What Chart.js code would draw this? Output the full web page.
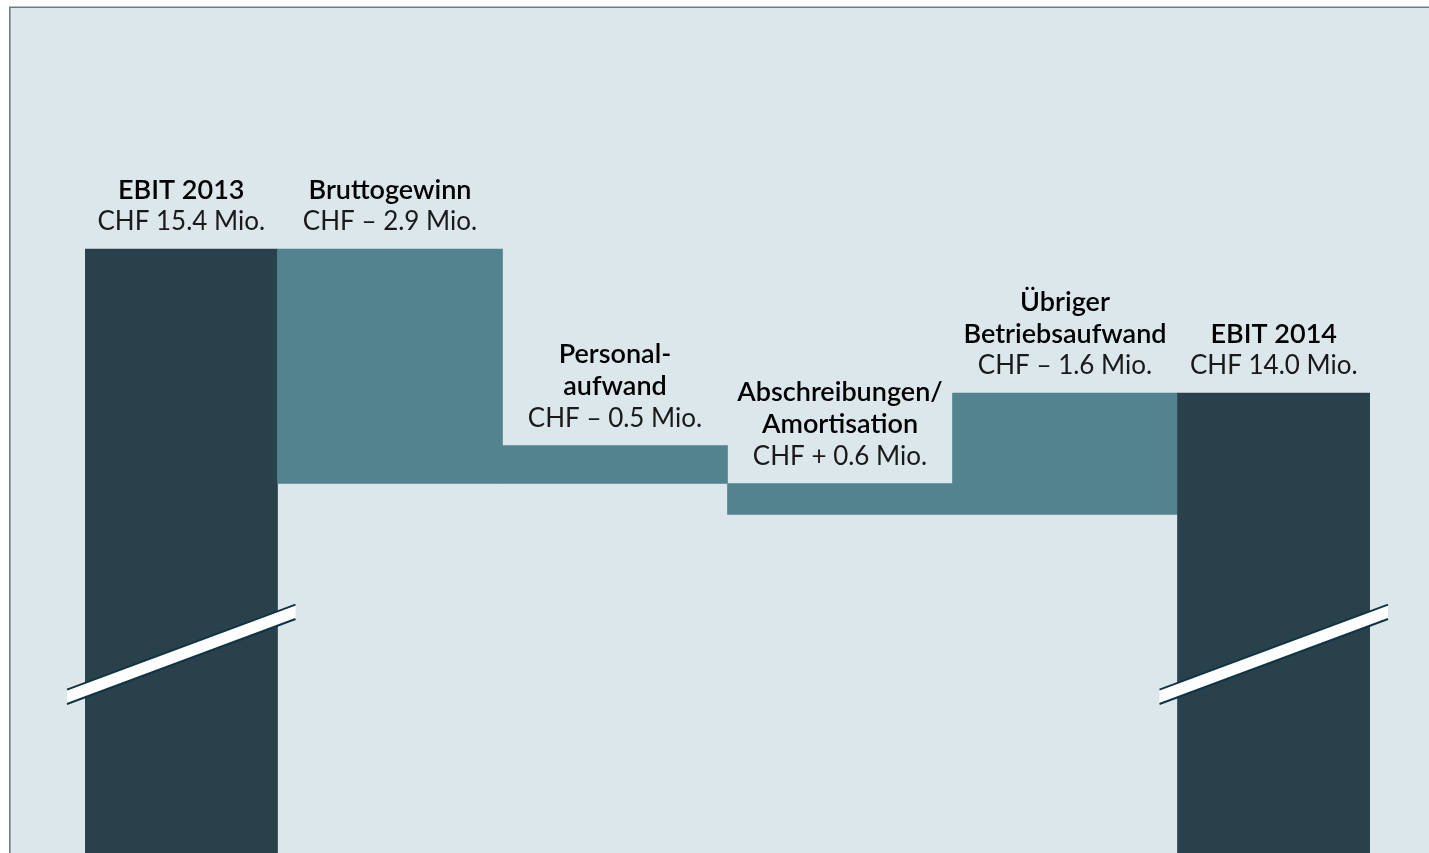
<!DOCTYPE html>
<html><head><meta charset="utf-8">
<script src="https://cdn.jsdelivr.net/npm/chart.js@4"></script>
<style>
html,body{margin:0;padding:0;background:#fff;overflow:hidden}
#wrap{position:relative;width:1429px;height:853px}
</style></head><body>
<div id="wrap"><canvas id="c"></canvas></div>
<script>
// ---- data ----
const categories = [['EBIT 2013'], ['Bruttogewinn'], ['Personal-', 'aufwand'], ['Abschreibungen/', 'Amortisation'], ['Übriger', 'Betriebsaufwand'], ['EBIT 2014']];
const valueLabels = ['CHF 15.4 Mio.', 'CHF – 2.9 Mio.', 'CHF – 0.5 Mio.', 'CHF + 0.6 Mio.', 'CHF – 1.6 Mio.', 'CHF 14.0 Mio.'];
const barLow  = [9.5, 13.12, 13.12, 12.82, 12.82, 9.5];
const barHigh = [15.4, 15.4, 13.49, 13.12, 14.0, 14.0];
const barKinds = ['total', 'delta', 'delta', 'delta', 'delta', 'total'];

// ---- styles ----
const COLORS = { total: '#28414a', delta: '#52838f' };
const BG = '#dce7ec';
const FONT = 'Lato, "Open Sans", sans-serif';

const panelPlugin = {
  id: 'panel',
  beforeDraw(chart) {
    const { ctx, width, height } = chart;
    ctx.save();
    ctx.fillStyle = BG;
    ctx.fillRect(9, 7, width - 9, height - 7);
    ctx.strokeStyle = '#6b7e88';
    ctx.lineWidth = 1.6;
    ctx.beginPath();
    ctx.moveTo(9.8, height);
    ctx.lineTo(9.8, 7.2);
    ctx.lineTo(width, 7.2);
    ctx.stroke();
    ctx.restore();
  }
};

function visibleExtent(el, ca) {
  const l = Math.max(el.x - el.width / 2, ca.left);
  const r = Math.min(el.x + el.width / 2, ca.right);
  return { l, r, c: (l + r) / 2 };
}

const breakPlugin = {
  id: 'breaks',
  afterDatasetsDraw(chart, args, opts) {
    const { ctx, chartArea: ca } = chart;
    const ys = chart.scales.y;
    const meta = chart.getDatasetMeta(0);
    const yc = ys.getPixelForValue(opts.value);
    const slope = -0.372, half = 7.2, over = 18;
    ctx.save();
    meta.data.forEach((el, i) => {
      if (barKinds[i] !== 'total') return;
      const v = visibleExtent(el, ca);
      const x0 = v.l - over, x1 = v.r + over;
      const y0 = yc + slope * (x0 - v.c), y1 = yc + slope * (x1 - v.c);
      ctx.beginPath();
      ctx.moveTo(x0, y0 - half); ctx.lineTo(x1, y1 - half);
      ctx.lineTo(x1, y1 + half); ctx.lineTo(x0, y0 + half);
      ctx.closePath();
      ctx.fillStyle = '#ffffff';
      ctx.fill();
      ctx.strokeStyle = '#0f3446';
      ctx.lineWidth = 2;
      ctx.beginPath();
      ctx.moveTo(x0, y0 - half); ctx.lineTo(x1, y1 - half);
      ctx.moveTo(x0, y0 + half); ctx.lineTo(x1, y1 + half);
      ctx.stroke();
    });
    ctx.restore();
  }
};

const labelPlugin = {
  id: 'barLabels',
  afterDatasetsDraw(chart) {
    const { ctx, chartArea: ca } = chart;
    const meta = chart.getDatasetMeta(0);
    ctx.save();
    ctx.textAlign = 'center';
    ctx.textBaseline = 'middle';
    meta.data.forEach((el, i) => {
      const v = visibleExtent(el, ca);
      const top = Math.min(el.y, el.base);
      const lines = categories[i];
      let y = top - 27;
      ctx.fillStyle = '#1a1a1a';
      ctx.font = '400 26px ' + FONT;
      ctx.fillText(valueLabels[i], v.c, y);
      ctx.fillStyle = '#000000';
      ctx.font = '600 27px ' + FONT;
      for (let k = lines.length - 1; k >= 0; k--) {
        y -= 32;
        ctx.fillText(lines[k], v.c, y);
      }
    });
    ctx.restore();
  }
};

new Chart(document.getElementById('c'), {
  type: 'bar',
  data: {
    datasets: [{
      data: barLow.map((lo, i) => ({ x: i, y: [lo, barHigh[i]] })),
      backgroundColor: barKinds.map(k => COLORS[k]),
      borderWidth: 0,
      categoryPercentage: 1,
      barPercentage: 1,
      clip: 0
    }]
  },
  options: {
    responsive: true,
    maintainAspectRatio: false,
    animation: false,
    layout: { padding: { left: 85, right: 59, top: 33, bottom: 0 } },
    scales: {
      x: {
        type: 'linear', min: -0.35556, max: 5.35556, offset: false, display: false,
        afterBuildTicks: s => { s.ticks = categories.map((_, i) => ({ value: i })); }
      },
      y: { type: 'linear', min: 9.528, max: 17.5, display: false }
    },
    plugins: {
      legend: { display: false },
      tooltip: { enabled: false },
      breaks: { value: 11.46 }
    }
  },
  plugins: [panelPlugin, breakPlugin, labelPlugin]
});
</script>
</body></html>
